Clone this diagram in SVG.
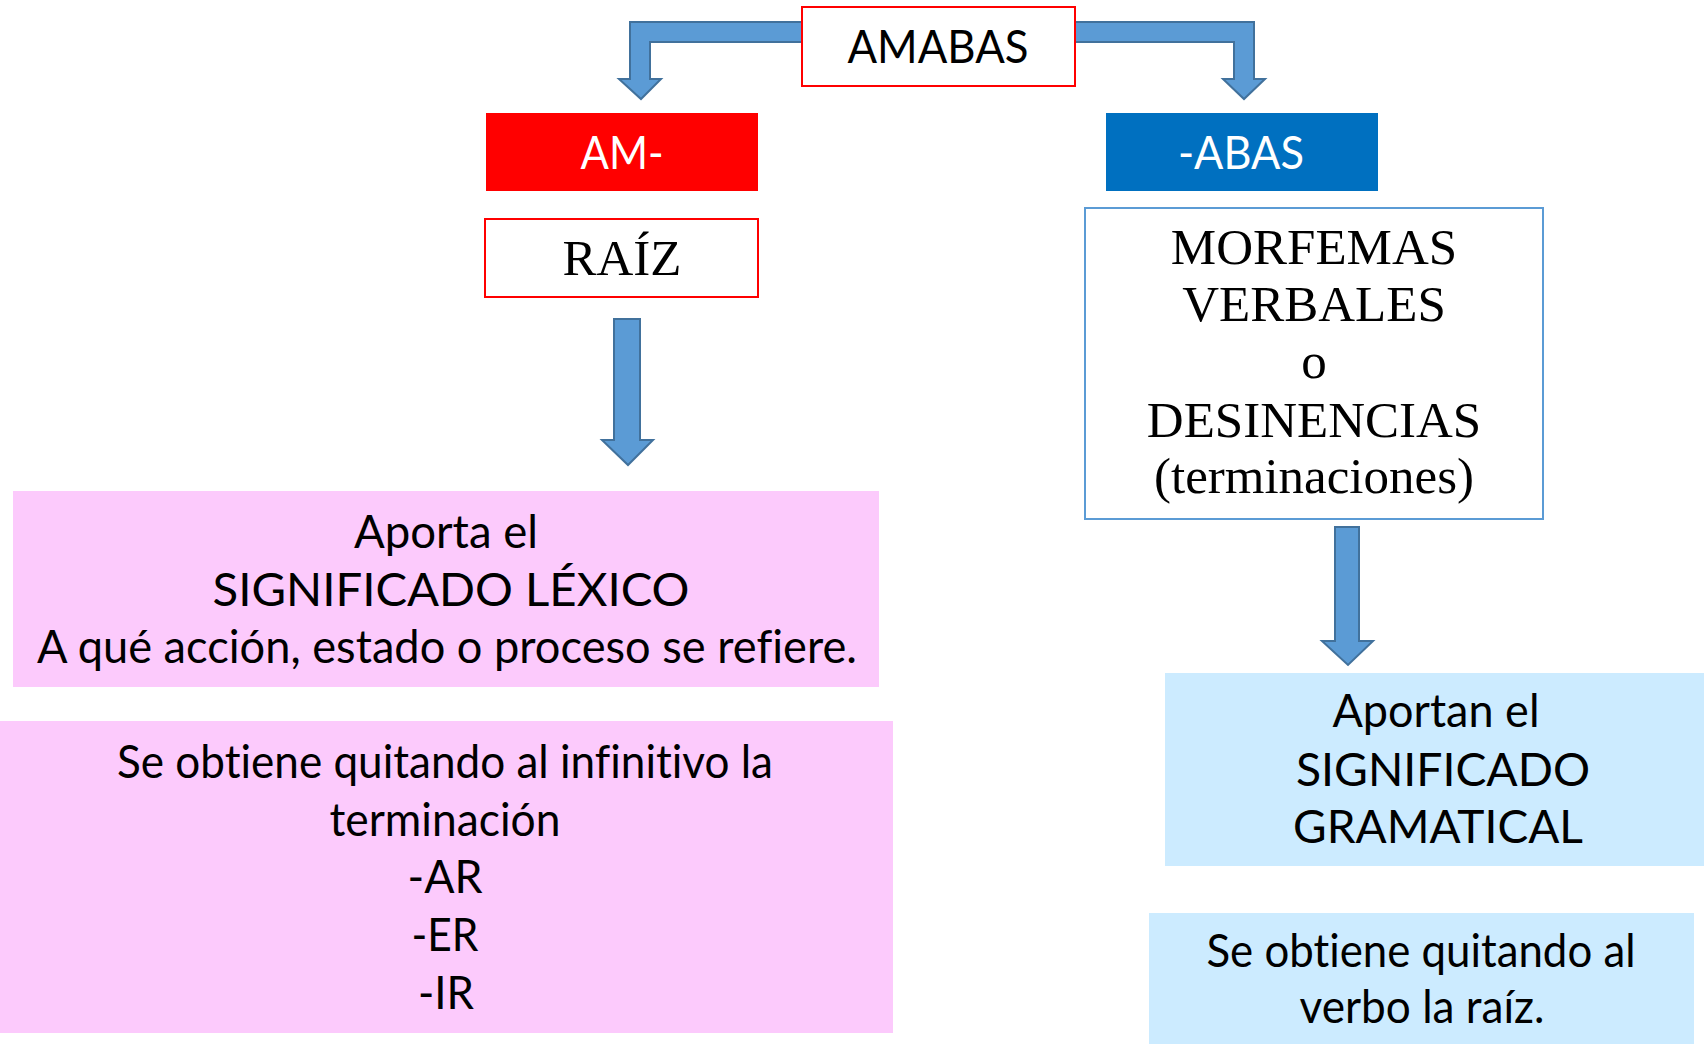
<svg xmlns="http://www.w3.org/2000/svg" width="1704" height="1044" viewBox="0 0 1704 1044">
<style>
.sans{font-family:"Lato","Open Sans","Liberation Sans",sans-serif;font-size:47px;fill:#000;text-anchor:middle;font-variant-ligatures:none}
.serif{font-family:"Liberation Serif","Times New Roman",serif;font-size:51px;fill:#000;text-anchor:middle}
.white{fill:#fff}
.arrow{fill:#5B9BD5;stroke:#41719C;stroke-width:2;stroke-linejoin:miter}
</style>
<rect width="1704" height="1044" fill="#fff"/>
<g id="connectors">
<path class="arrow" d="M802,22 L630,22 L630,79 L619,79 L641,99 L661,79 L650,79 L650,42 L802,42 Z"/>
<path class="arrow" d="M1075,22 L1254,22 L1254,79 L1265,79 L1244,99 L1223,79 L1234,79 L1234,42 L1075,42 Z"/>
<path class="arrow" d="M614,319 L640,319 L640,440 L653,440 L628,465 L602,440 L614,440 Z"/>
<path class="arrow" d="M1335,527 L1359,527 L1359,641 L1373,641 L1348,665 L1322,641 L1335,641 Z"/>
</g>
<g id="amabas">
<rect x="802" y="7" width="273" height="79" fill="#fff" stroke="#FF0000" stroke-width="2"/>
<text class="sans" x="938" y="63" textLength="181" lengthAdjust="spacingAndGlyphs">AMABAS</text>
</g>
<g id="am">
<rect x="486" y="113" width="272" height="78" fill="#FF0000"/>
<text class="sans white" x="622" y="169" textLength="83" lengthAdjust="spacingAndGlyphs">AM-</text>
</g>
<g id="abas">
<rect x="1106" y="113" width="272" height="78" fill="#0070C0"/>
<text class="sans white" x="1241" y="169" textLength="126" lengthAdjust="spacingAndGlyphs">-ABAS</text>
</g>
<g id="raiz">
<rect x="485" y="219" width="273" height="78" fill="#fff" stroke="#FF0000" stroke-width="2"/>
<text class="serif" x="622" y="275">RAÍZ</text>
</g>
<g id="morfemas">
<rect x="1085" y="208" width="458" height="311" fill="#fff" stroke="#5B9BD5" stroke-width="2"/>
<text class="serif" x="1314" y="264">MORFEMAS</text>
<text class="serif" x="1314" y="321">VERBALES</text>
<text class="serif" x="1314" y="378">o</text>
<text class="serif" x="1314" y="437">DESINENCIAS</text>
<text class="serif" x="1314" y="493">(terminaciones)</text>
</g>
<g id="lexico">
<rect x="13" y="491" width="866" height="196" fill="#FCCAFC"/>
<text class="sans" x="446" y="548" textLength="184" lengthAdjust="spacingAndGlyphs">Aporta el</text>
<text class="sans" x="451" y="606" textLength="477" lengthAdjust="spacingAndGlyphs">SIGNIFICADO LÉXICO</text>
<text class="sans" x="447" y="663" textLength="820" lengthAdjust="spacingAndGlyphs">A qué acción, estado o proceso se refiere.</text>
</g>
<g id="obtiene-raiz">
<rect x="0" y="721" width="893" height="312" fill="#FCCAFC"/>
<text class="sans" x="445" y="778" textLength="656" lengthAdjust="spacingAndGlyphs">Se obtiene quitando al infinitivo la</text>
<text class="sans" x="445" y="836" textLength="231" lengthAdjust="spacingAndGlyphs">terminación</text>
<text class="sans" x="445" y="893" textLength="75" lengthAdjust="spacingAndGlyphs">-AR</text>
<text class="sans" x="445" y="951" textLength="67" lengthAdjust="spacingAndGlyphs">-ER</text>
<text class="sans" x="446" y="1009" textLength="56" lengthAdjust="spacingAndGlyphs">-IR</text>
</g>
<g id="gramatical">
<rect x="1165" y="673" width="539" height="193" fill="#CCEBFF"/>
<text class="sans" x="1436" y="727" textLength="207" lengthAdjust="spacingAndGlyphs">Aportan el</text>
<text class="sans" x="1443" y="786" textLength="294" lengthAdjust="spacingAndGlyphs">SIGNIFICADO</text>
<text class="sans" x="1438" y="843" textLength="290" lengthAdjust="spacingAndGlyphs">GRAMATICAL</text>
</g>
<g id="obtiene-desinencia">
<rect x="1149" y="913" width="545" height="131" fill="#CCEBFF"/>
<text class="sans" x="1421" y="967" textLength="429" lengthAdjust="spacingAndGlyphs">Se obtiene quitando al</text>
<text class="sans" x="1422" y="1023" textLength="245" lengthAdjust="spacingAndGlyphs">verbo la raíz.</text>
</g>
</svg>
